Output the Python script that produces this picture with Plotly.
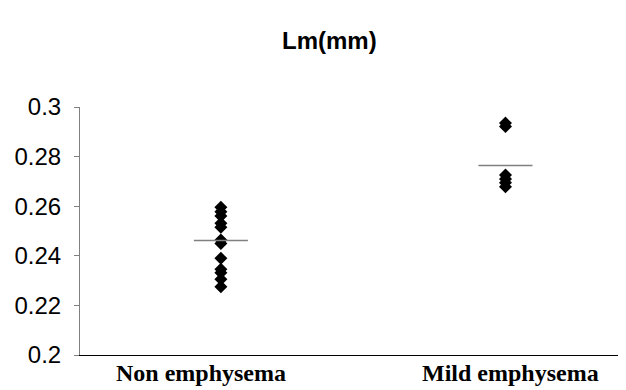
import plotly.graph_objects as go

categories = ["Non emphysema", "Mild emphysema"]
label_pos = [0.93, 2.018]
non_emph = [0.2596, 0.2578, 0.2560, 0.2531, 0.2515, 0.2464, 0.2450, 0.2390, 0.2346, 0.2332, 0.2305, 0.2275]
mild_emph = [0.2935, 0.2921, 0.2726, 0.2710, 0.2695, 0.2678]
means = [0.2462, 0.2764]
y_ticks = [0.2, 0.22, 0.24, 0.26, 0.28, 0.3]
y_ticktext = ["0.2", "0.22", "0.24", "0.26", "0.28", "0.3"]

fig = go.Figure()
groups = [non_emph, mild_emph]
for i, vals in enumerate(groups):
    fig.add_trace(go.Scatter(
        x=[i + 1] * len(vals), y=vals, mode="markers",
        marker=dict(symbol="diamond", size=10, color="black"),
        showlegend=False, hoverinfo="y"))
for i, m in enumerate(means):
    fig.add_trace(go.Scatter(
        x=[i + 1 - 0.095, i + 1 + 0.095], y=[m, m], mode="lines",
        line=dict(color="#808080", width=1.5), showlegend=False, hoverinfo="skip"))

annots = [dict(text="<b>Lm(mm)</b>", x=0.457, xref="paper",
               y=1 + (99 - 32) / 248, yref="paper", yanchor="middle",
               showarrow=False, font=dict(family="Liberation Sans", size=24, color="black"))]
for c, p in zip(categories, label_pos):
    annots.append(dict(text="<b>" + c + "</b>", x=p, xref="x", y=0, yref="paper",
                       yanchor="top", yshift=-3, showarrow=False,
                       font=dict(family="Liberation Serif", size=24, color="black")))

# page body has an 8px margin, so the figure is sized/offset to compensate
fig.update_layout(
    width=618, height=382,
    margin=dict(l=72, r=1, t=99, b=35, autoexpand=False),
    paper_bgcolor="white", plot_bgcolor="white",
    annotations=annots,
)
fig.update_xaxes(range=[0.505, 2.42], showticklabels=False,
                 showgrid=False, zeroline=False, showline=True, linecolor="black", linewidth=1,
                 ticks="")
fig.update_yaxes(range=[0.2, 0.3], tickvals=y_ticks, ticktext=y_ticktext,
                 showgrid=False, zeroline=False, showline=True, linecolor="#808080", linewidth=1,
                 ticks="outside", ticklen=5, tickcolor="#808080", ticklabelstandoff=8,
                 tickfont=dict(family="Liberation Sans", size=24, color="black"))

fig.write_html("out.html")
